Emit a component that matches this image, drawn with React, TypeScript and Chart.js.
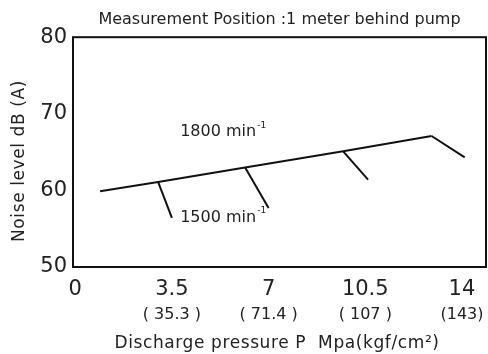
import React, { useEffect, useRef } from "react";
import { Chart, registerables } from "chart.js";

Chart.register(...registerables);

const titleText = "Measurement Position :1 meter behind pump";
const yAxisTitle = "Noise level dB (A)";
const xAxisTitle = "Discharge pressure P  Mpa(kgf/cm²)";

const xTickValues = [0, 3.5, 7, 10.5, 14];
const xTickLabelsMpa = ["0", "3.5", "7", "10.5", "14"];
const xTickLabelsKgf = ["", "( 35.3 )", "( 71.4 )", "( 107 )", "(143)"];
const yTickValues = [50, 60, 70, 80];

const line1800X = [0.9, 3.0, 6.15, 9.7, 12.9];
const line1800Y = [59.9, 61.1, 63.0, 65.1, 67.1];

const branch1500StartX = [3.0, 6.15, 9.7, 12.9];
const branch1500StartY = [61.1, 63.0, 65.1, 67.1];
const branch1500EndX = [3.5, 7.0, 10.6, 14.1];
const branch1500EndY = [56.4, 57.7, 61.4, 64.3];

const curveLabels = ["1800 min", "1500 min"];
const curveLabelSup = "-1";
const curveLabelX = [3.8, 3.8];
const curveLabelY = [67.6, 56.4];

const FONT = "'DejaVu Sans', 'Liberation Sans', sans-serif";
const TEXT = "#222";

export default function App() {
  const ref = useRef<HTMLCanvasElement | null>(null);

  useEffect(() => {
    document.body.style.margin = "0";
    const canvas = ref.current;
    if (!canvas) return;

    const datasets: any[] = [
      {
        label: "1800",
        data: line1800X.map((x, i) => ({ x, y: line1800Y[i] })),
        showLine: true,
        borderColor: "#111",
        borderWidth: 2,
        pointRadius: 0,
        fill: false,
      },
      ...branch1500StartX.map((x, i) => ({
        label: "1500-" + i,
        data: [
          { x, y: branch1500StartY[i] },
          { x: branch1500EndX[i], y: branch1500EndY[i] },
        ],
        showLine: true,
        borderColor: "#111",
        borderWidth: 2,
        pointRadius: 0,
        fill: false,
      })),
    ];

    const decor = {
      id: "decor",
      afterDraw(chart: any) {
        const { ctx, chartArea } = chart;
        const xs = chart.scales.x;
        const ys = chart.scales.y;
        ctx.save();
        // box
        ctx.strokeStyle = "#111";
        ctx.lineWidth = 2;
        ctx.strokeRect(chartArea.left, chartArea.top, chartArea.right - chartArea.left, chartArea.bottom - chartArea.top);
        ctx.fillStyle = TEXT;
        // kgf second line
        ctx.font = `16px ${FONT}`;
        ctx.textAlign = "center";
        ctx.textBaseline = "middle";
        xTickValues.forEach((v, i) => {
          const lbl = xTickLabelsKgf[i];
          if (lbl) ctx.fillText(lbl, xs.getPixelForValue(v), 315);
        });
        // x title
        ctx.font = `17px ${FONT}`;
        try { (ctx as any).letterSpacing = "0.6px"; } catch (e) {}
        ctx.fillText(xAxisTitle, 277, 344);
        // y title
        ctx.save();
        ctx.translate(20, 161);
        ctx.rotate(-Math.PI / 2);
        ctx.font = `17px ${FONT}`;
        ctx.fillText(yAxisTitle, 0, 0);
        ctx.restore();
        try { (ctx as any).letterSpacing = "0px"; } catch (e) {}
        // curve labels
        curveLabels.forEach((t, i) => {
          const px = xs.getPixelForValue(curveLabelX[i]);
          const py = ys.getPixelForValue(curveLabelY[i]);
          ctx.font = `16px ${FONT}`;
          ctx.textAlign = "left";
          ctx.textBaseline = "middle";
          ctx.fillText(t, px, py);
          const w = ctx.measureText(t).width;
          ctx.font = `9px ${FONT}`;
          ctx.fillText(curveLabelSup, px + w + 1, py - 7);
        });
        ctx.restore();
      },
    };

    const chart = new Chart(canvas, {
      type: "scatter",
      data: { datasets },
      options: {
        animation: false,
        responsive: false,
        layout: { padding: { left: 0, right: 2, top: 0, bottom: 0 } },
        plugins: {
          legend: { display: false },
          tooltip: { enabled: false },
          title: {
            display: true,
            text: titleText,
            fullSize: false,
            color: TEXT,
            font: { family: FONT, size: 16, weight: "normal" },
            padding: { top: 10, bottom: 8 },
          },
        },
        scales: {
          x: {
            type: "linear",
            min: -0.08,
            max: 14.87,
            grid: { display: false, drawTicks: false },
            border: { display: false },
            afterBuildTicks: (scale: any) => {
              scale.ticks = xTickValues.map((v) => ({ value: v }));
            },
            afterFit: (scale: any) => {
              scale.height = 87;
            },
            ticks: {
              autoSkip: false,
              maxRotation: 0,
              padding: 10,
              color: TEXT,
              font: { family: FONT, size: 21 },
              callback: (v: any) => {
                const i = xTickValues.indexOf(Number(v));
                return i >= 0 ? xTickLabelsMpa[i] : "";
              },
            },
          },
          y: {
            type: "linear",
            min: 50,
            max: 80,
            grid: { display: false, drawTicks: false },
            border: { display: false },
            afterBuildTicks: (scale: any) => {
              scale.ticks = yTickValues.map((v) => ({ value: v }));
            },
            afterFit: (scale: any) => {
              scale.width = 73;
            },
            ticks: {
              padding: 6,
              color: TEXT,
              font: { family: FONT, size: 21 },
            },
          },
        },
      } as any,
      plugins: [decor],
    });

    return () => chart.destroy();
  }, []);

  return (
    <div style={{ width: 488, height: 354 }}>
      <canvas ref={ref} width={488} height={354} style={{ display: "block" }} />
    </div>
  );
}
